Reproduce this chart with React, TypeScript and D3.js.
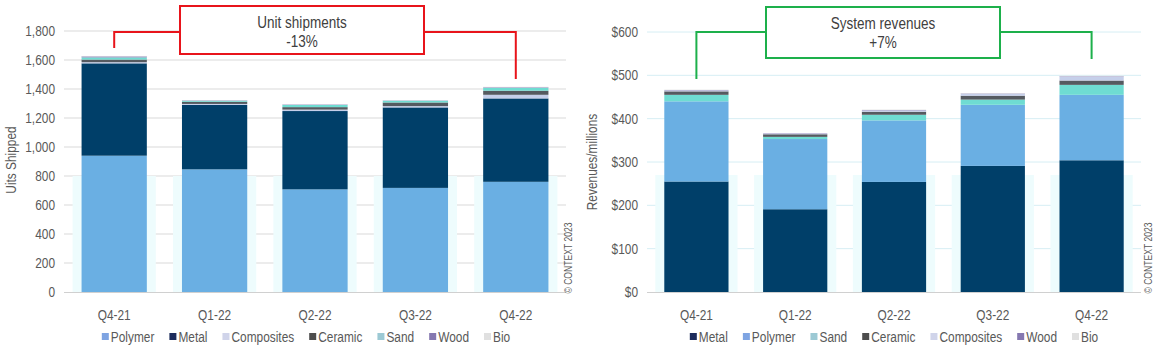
import React, { useEffect, useRef } from "react";
import * as d3 from "d3";

const quarters = ["Q4-21", "Q1-22", "Q2-22", "Q3-22", "Q4-22"];

// unit shipments, stacked bottom to top
const unitKeys = ["Polymer", "Metal", "Composites", "Ceramic", "Sand", "Wood", "Bio"];
const unitPolymer = [940, 846, 708, 718, 760];
const unitMetal = [637, 444, 540, 555, 575];
const unitComposites = [8, 7, 10, 9, 25];
const unitCeramic = [18, 15, 17, 25, 28];
const unitSand = [15, 7, 15, 12, 20];
const unitWood = [7, 3, 3, 2, 4];
const unitBio = [3, 2, 2, 2, 3];
const unitTicks = [0, 200, 400, 600, 800, 1000, 1200, 1400, 1600, 1800];

// system revenues ($ millions), stacked bottom to top
const revKeys = ["Metal", "Polymer", "Sand", "Ceramic", "Composites", "Wood", "Bio"];
const revMetal = [255, 191, 254, 291, 304];
const revPolymer = [185, 162, 142, 141, 151];
const revSand = [15, 5, 13, 12, 23];
const revCeramic = [8, 6, 7, 9, 10];
const revComposites = [2, 1, 3, 4, 9];
const revWood = [1, 1, 1, 1, 1];
const revBio = [1, 0, 1, 1, 1];
const revTicks = [0, 100, 200, 300, 400, 500, 600];

const barColor: Record<string, string> = {
  Polymer: "#6aafe3",
  Metal: "#003f69",
  Composites: "#c5cfea",
  Ceramic: "#555a60",
  Sand: "#6fdcd2",
  Wood: "#8c80b8",
  Bio: "#e3e3e3"
};
const legendColor: Record<string, string> = {
  Polymer: "#7ea4e2",
  Metal: "#1c2b5c",
  Composites: "#d0d4ea",
  Ceramic: "#4d4d4d",
  Sand: "#9cc9d4",
  Wood: "#8578b0",
  Bio: "#e0e0e0"
};

const TXT = "#595959";
const FONT = "'Liberation Sans', Arial, sans-serif";
// the source uses a narrow face; squeeze Liberation Sans horizontally to match
const SX = 0.82;
const LABEL = 14.5;
const NOTE = 16.5;
const COPY = 10.5;

function buildRows(keys: string[], series: number[][]) {
  return quarters.map((q, i) => {
    const row: any = { q };
    keys.forEach((k, j) => (row[k] = series[j][i]));
    return row;
  });
}

function label(parent: any, x: number, y: number, s: string, size: number, anchor = "start", rot = 0, fill = TXT) {
  return parent
    .append("text")
    .attr("transform", `translate(${x},${y})${rot ? ` rotate(${rot})` : ""} scale(${SX},1)`)
    .attr("text-anchor", anchor)
    .attr("font-size", size)
    .attr("fill", fill)
    .text(s);
}

function drawPanel(svg: any, cfg: any) {
  const g = svg.append("g").attr("font-family", FONT);
  const x = d3.scaleBand().domain(quarters).range([cfg.left, cfg.right]).paddingInner(0.35).paddingOuter(0.175);
  const y = d3.scaleLinear().domain([0, cfg.max]).range([cfg.bottom, cfg.top]);

  // gridlines
  g.selectAll(".grid")
    .data(cfg.ticks.slice(1))
    .enter()
    .append("line")
    .attr("x1", cfg.left)
    .attr("x2", cfg.right)
    .attr("y1", (d: number) => y(d))
    .attr("y2", (d: number) => y(d))
    .attr("stroke", cfg.grid)
    .attr("stroke-width", 1);

  // faint ghost rectangles behind bars
  g.selectAll(".ghost")
    .data(quarters)
    .enter()
    .append("rect")
    .attr("x", (d: string) => (x(d) as number) - 9)
    .attr("width", x.bandwidth() + 18)
    .attr("y", y(cfg.ghost))
    .attr("height", y(0) - y(cfg.ghost))
    .attr("fill", "#eefcfd");

  const stack = d3.stack().keys(cfg.keys)(cfg.rows);
  g.selectAll(".layer")
    .data(stack)
    .enter()
    .append("g")
    .attr("fill", (d: any) => barColor[d.key])
    .selectAll("rect")
    .data((d: any) => d)
    .enter()
    .append("rect")
    .attr("x", (d: any) => x(d.data.q))
    .attr("width", x.bandwidth())
    .attr("y", (d: any) => y(d[1]))
    .attr("height", (d: any) => Math.max(0, y(d[0]) - y(d[1])));

  // baseline
  g.append("line")
    .attr("x1", cfg.left)
    .attr("x2", cfg.right)
    .attr("y1", y(0) + 0.5)
    .attr("y2", y(0) + 0.5)
    .attr("stroke", "#d0d0d0");

  // y tick labels
  cfg.ticks.forEach((d: number) => label(g, cfg.left - 9, y(d) + 5, cfg.fmt(d), LABEL, "end"));

  // x labels
  quarters.forEach((q) => label(g, (x(q) as number) + x.bandwidth() / 2, 320, q, LABEL, "middle"));

  // axis title + copyright
  label(g, cfg.titleX, cfg.titleY, cfg.title, LABEL, "middle", -90);
  label(g, cfg.copyX, 258, "© CONTEXT 2023", COPY, "middle", -90);

  // legend
  const leg = g.append("g");
  let cx = 0;
  cfg.keys.forEach((k: string) => {
    const item = leg.append("g").attr("transform", `translate(${cx},0)`);
    item.append("rect").attr("x", 0).attr("y", -4).attr("width", 7).attr("height", 7).attr("fill", legendColor[k]);
    const t = label(item, 9, 5, k, LABEL);
    const w = (t.node() as SVGTextElement).getComputedTextLength() * SX;
    cx += 9 + w + 15;
  });
  const total = cx - 15;
  leg.attr("transform", `translate(${cfg.legendCenter - total / 2},337)`);

  // annotation bracket + box
  const xl = (x(quarters[0]) as number) + x.bandwidth() / 2;
  const xr = (x(quarters[4]) as number) + x.bandwidth() / 2;
  const a = cfg.note;
  g.append("path")
    .attr("d", `M${xl},${a.leftEnd} V${a.bracketY} H${a.boxX} M${a.boxX + a.boxW},${a.bracketY} H${xr} V${a.rightEnd}`)
    .attr("fill", "none")
    .attr("stroke", a.color)
    .attr("stroke-width", 2);
  g.append("rect")
    .attr("x", a.boxX)
    .attr("y", a.boxY)
    .attr("width", a.boxW)
    .attr("height", a.boxH)
    .attr("fill", "#fff")
    .attr("stroke", a.color)
    .attr("stroke-width", 2);
  a.lines.forEach((s: string, i: number) =>
    label(g, a.boxX + a.boxW / 2, a.boxY + 22 + i * 19, s, NOTE, "middle", 0, "#404040")
  );
}

export default function App() {
  const ref = useRef<SVGSVGElement>(null);

  useEffect(() => {
    document.body.style.margin = "0";
    const svg = d3.select(ref.current);
    svg.selectAll("*").remove();

    drawPanel(svg, {
      keys: unitKeys,
      rows: buildRows(unitKeys, [unitPolymer, unitMetal, unitComposites, unitCeramic, unitSand, unitWood, unitBio]),
      left: 64,
      right: 566,
      top: 31,
      bottom: 292,
      max: 1800,
      ticks: unitTicks,
      grid: "#d9d9d9",
      ghost: 800,
      fmt: (d: number) => d3.format(",")(d),
      title: "Uits Shipped",
      titleX: 16,
      titleY: 160,
      copyX: 572,
      legendCenter: 306,
      note: {
        color: "#e8141b",
        boxX: 180,
        boxY: 6,
        boxW: 244,
        boxH: 48,
        bracketY: 32,
        leftEnd: 48,
        rightEnd: 79,
        lines: ["Unit shipments", "-13%"]
      }
    });

    drawPanel(svg, {
      keys: revKeys,
      rows: buildRows(revKeys, [revMetal, revPolymer, revSand, revCeramic, revComposites, revWood, revBio]),
      left: 647,
      right: 1141,
      top: 32,
      bottom: 292,
      max: 600,
      ticks: revTicks,
      grid: "#d6eef4",
      ghost: 270,
      fmt: (d: number) => "$" + d,
      title: "Revenues/millions",
      titleX: 597,
      titleY: 162,
      copyX: 1152,
      legendCenter: 894,
      note: {
        color: "#1db04b",
        boxX: 766,
        boxY: 7,
        boxW: 234,
        boxH: 51,
        bracketY: 32,
        leftEnd: 79,
        rightEnd: 59,
        lines: ["System revenues", "+7%"]
      }
    });
  }, []);

  return <svg ref={ref} width={1160} height={351} style={{ display: "block", background: "#fff" }} />;
}
